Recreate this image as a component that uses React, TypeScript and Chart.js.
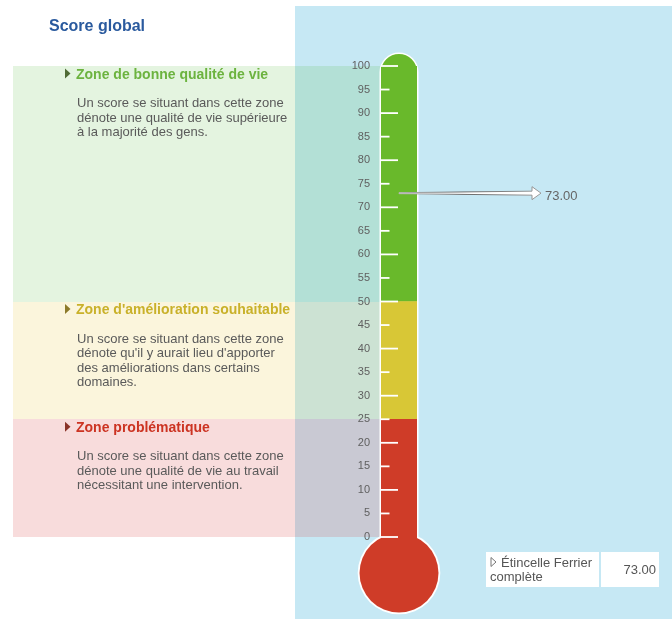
import React, { useEffect, useRef } from "react";
import { Chart, registerables } from "chart.js";

Chart.register(...registerables);

// ---- data ----
const chartTitle = "Score global";
const categories = ["Score global"];
const zoneNames = ["Zone problématique", "Zone d'amélioration souhaitable", "Zone de bonne qualité de vie"];
const zoneLow = [0, 25, 50];
const zoneHigh = [25, 50, 100];
const zoneDescriptions = [
  ["Un score se situant dans cette zone", "dénote une qualité de vie au travail", "nécessitant une intervention."],
  ["Un score se situant dans cette zone", "dénote qu'il y aurait lieu d'apporter", "des améliorations dans certains", "domaines."],
  ["Un score se situant dans cette zone", "dénote une qualité de vie supérieure", "à la majorité des gens."],
];
const yMin = 0;
const yMax = 100;
const yStep = 5;
const scoreName = ["Étincelle Ferrier", "complète"];
const scoreValue = 73.0;

// ---- styles ----
const FONT = '"Liberation Sans", Arial, Helvetica, sans-serif';
const tubeColors = ["#cf3c28", "#d8c736", "#69b92b"];
const zoneFill = ["rgba(215,60,60,0.18)", "rgba(234,203,71,0.19)", "rgba(62,176,33,0.14)"];
const zoneTitleColors = ["#cc3322", "#c9b12a", "#6cb33f"];
const zoneArrowColors = ["#8a3328", "#8c7a2a", "#4f6b35"];

const thermoPlugin = {
  id: "thermo",
  beforeDraw(chart: any) {
    const ctx = chart.ctx as CanvasRenderingContext2D;
    const y = chart.scales.y;
    const ca = chart.chartArea;
    ctx.save();
    // blue panel
    ctx.fillStyle = "#c6e8f4";
    ctx.fillRect(295, 6, 377, 613);
    // zones
    for (let i = 0; i < zoneLow.length; i++) {
      const top = y.getPixelForValue(zoneHigh[i]);
      const bot = y.getPixelForValue(zoneLow[i]);
      ctx.fillStyle = zoneFill[i];
      ctx.fillRect(13, Math.round(top), ca.left - 13, Math.round(bot) - Math.round(top));
    }
    // thermometer outline
    const cx = (ca.left + ca.right) / 2;
    const hw = (ca.right - ca.left) / 2;
    const capCy = ca.top - 12 + hw;
    const bulbCy = ca.bottom + 36;
    const bulbR = 39.5;
    ctx.fillStyle = "#ffffff";
    ctx.beginPath();
    ctx.moveTo(ca.left - 1.5, bulbCy);
    ctx.lineTo(ca.left - 1.5, capCy);
    ctx.arc(cx, capCy, hw + 1.5, Math.PI, 0);
    ctx.lineTo(ca.right + 1.5, bulbCy);
    ctx.closePath();
    ctx.fill();
    ctx.beginPath();
    ctx.arc(cx, bulbCy, bulbR + 1.8, 0, Math.PI * 2);
    ctx.fill();
    // cap
    ctx.fillStyle = tubeColors[2];
    ctx.beginPath();
    ctx.moveTo(ca.left, ca.top + 2);
    ctx.lineTo(ca.left, capCy);
    ctx.arc(cx, capCy, hw, Math.PI, 0);
    ctx.lineTo(ca.right, ca.top + 2);
    ctx.closePath();
    ctx.fill();
    // bulb + neck
    ctx.fillStyle = tubeColors[0];
    ctx.fillRect(ca.left, ca.bottom - 2, ca.right - ca.left, bulbCy - ca.bottom + 2);
    ctx.beginPath();
    ctx.arc(cx, bulbCy, bulbR, 0, Math.PI * 2);
    ctx.fill();
    ctx.restore();
  },
  afterDraw(chart: any) {
    const ctx = chart.ctx as CanvasRenderingContext2D;
    const y = chart.scales.y;
    const ca = chart.chartArea;
    const cx = (ca.left + ca.right) / 2;
    ctx.save();
    // tick marks
    ctx.strokeStyle = "#ffffff";
    ctx.lineWidth = 1.8;
    for (const t of y.ticks) {
      const py = y.getPixelForValue(t.value);
      const len = t.value % 10 === 0 ? 17 : 8.5;
      ctx.beginPath();
      ctx.moveTo(ca.left, py);
      ctx.lineTo(ca.left + len, py);
      ctx.stroke();
    }
    // arrow
    const py = y.getPixelForValue(scoreValue);
    const x0 = cx;
    const xh = 532;
    const tip = 541;
    const grad = ctx.createLinearGradient(x0, 0, tip, 0);
    grad.addColorStop(0, "#b5b5b5");
    grad.addColorStop(0.45, "#6a6a6a");
    grad.addColorStop(1, "#9a9a9a");
    ctx.beginPath();
    ctx.moveTo(x0, py - 0.5);
    ctx.lineTo(xh, py - 2);
    ctx.lineTo(xh, py - 6.5);
    ctx.lineTo(tip, py);
    ctx.lineTo(xh, py + 6.5);
    ctx.lineTo(xh, py + 2);
    ctx.lineTo(x0, py + 0.5);
    ctx.closePath();
    ctx.fillStyle = "#ffffff";
    ctx.fill();
    ctx.strokeStyle = grad;
    ctx.lineWidth = 1;
    ctx.stroke();
    ctx.fillStyle = "#666666";
    ctx.font = `13px ${FONT}`;
    ctx.textAlign = "left";
    ctx.textBaseline = "middle";
    ctx.fillText(scoreValue.toFixed(2), 545, py + 3);

    // title
    ctx.textBaseline = "alphabetic";
    ctx.fillStyle = "#2a5a9e";
    ctx.font = `bold 16px ${FONT}`;
    ctx.fillText(chartTitle, 49, 31);

    // zone texts
    for (let i = 0; i < zoneNames.length; i++) {
      const top = y.getPixelForValue(zoneHigh[i]);
      const base = top + 12.5;
      ctx.fillStyle = zoneArrowColors[i];
      ctx.beginPath();
      ctx.moveTo(65, base - 10);
      ctx.lineTo(70.5, base - 5);
      ctx.lineTo(65, base);
      ctx.closePath();
      ctx.fill();
      ctx.fillStyle = zoneTitleColors[i];
      ctx.font = `bold 14px ${FONT}`;
      ctx.fillText(zoneNames[i], 76, base);
      ctx.fillStyle = "#5a5a5a";
      ctx.font = `13px ${FONT}`;
      zoneDescriptions[i].forEach((line, k) => {
        ctx.fillText(line, 77, base + 28.5 + k * 14.6);
      });
    }

    // value box
    ctx.fillStyle = "#ffffff";
    ctx.fillRect(486, 552, 113, 35);
    ctx.fillRect(601, 552, 58, 35);
    ctx.strokeStyle = "#777777";
    ctx.lineWidth = 1;
    ctx.beginPath();
    ctx.moveTo(491, 557.5);
    ctx.lineTo(496, 562);
    ctx.lineTo(491, 566.5);
    ctx.closePath();
    ctx.stroke();
    ctx.fillStyle = "#555555";
    ctx.font = `13px ${FONT}`;
    ctx.fillText(scoreName[0], 501, 567);
    ctx.fillText(scoreName[1], 490, 581);
    ctx.textAlign = "right";
    ctx.fillText(scoreValue.toFixed(2), 656, 574);
    ctx.restore();
  },
};

export default function App() {
  const ref = useRef<HTMLCanvasElement>(null);
  useEffect(() => {
    if (!ref.current) return;
    const chart = new Chart(ref.current, {
      type: "bar",
      data: {
        labels: categories,
        datasets: zoneNames.map((name, i) => ({
          label: name,
          data: [[zoneLow[i], zoneHigh[i]]] as any,
          backgroundColor: tubeColors[i],
          borderWidth: 0,
          barPercentage: 1,
          categoryPercentage: 1,
          grouped: false,
        })),
      },
      options: {
        responsive: false,
        animation: false,
        events: [],
        layout: { padding: { left: 341, right: 255, top: 66, bottom: 82 } },
        plugins: {
          legend: { display: false },
          tooltip: { enabled: false },
          title: { display: false },
        },
        scales: {
          x: { display: false },
          y: {
            min: yMin,
            max: yMax,
            ticks: {
              stepSize: yStep,
              color: "#5f5f5f",
              padding: 11,
              font: { family: FONT, size: 11 },
            },
            grid: { display: false, drawTicks: false },
            border: { display: false },
            afterFit: (s: any) => {
              s.width = 40;
            },
          },
        },
      },
      plugins: [thermoPlugin],
    } as any);
    return () => chart.destroy();
  }, []);
  return (
    <div style={{ position: "fixed", left: 0, top: 0, width: 672, height: 619, background: "#fff" }}>
      <canvas ref={ref} width={672} height={619} style={{ display: "block" }} />
    </div>
  );
}
